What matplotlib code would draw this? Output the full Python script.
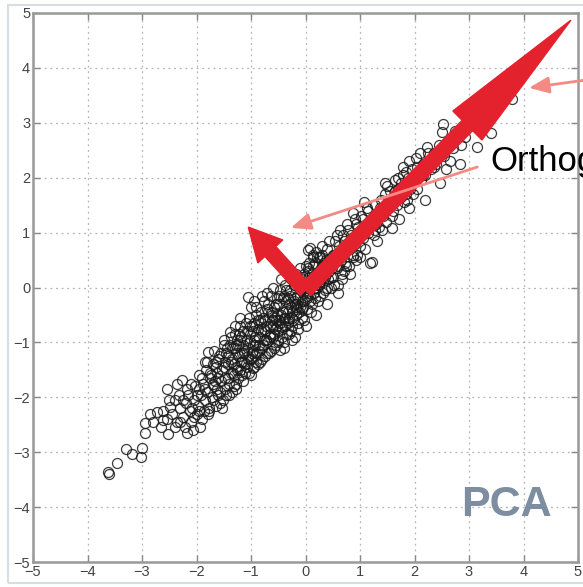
import numpy as np
import matplotlib.pyplot as plt
from matplotlib.patches import FancyArrow, Rectangle

plt.rcParams['font.family'] = ['Liberation Sans', 'DejaVu Sans']

# scatter points, split by region along the diagonal
lower_tail = [(-3.62, -3.36), (-3.60, -3.40), (-3.46, -3.20), (-3.29, -2.94), (-3.18, -3.03),
              (-3.00, -2.92), (-3.02, -3.09), (-2.94, -2.47), (-2.94, -2.65), (-2.72, -2.27),
              (-2.61, -2.41), (-2.52, -2.67), (-2.54, -1.85), (-2.45, -2.30), (-2.40, -2.05),
              (-2.35, -2.45), (-2.62, -2.25), (-2.80, -2.45), (-2.85, -2.30), (-2.48, -2.18),
              (-2.30, -2.20), (-2.32, -1.95), (-2.40, -2.55), (-2.55, -2.40), (-2.65, -2.55),
              (-2.50, -2.05), (-2.30, -2.45)]

lower_mid = [(-2.27, -1.68), (-2.17, -2.65), (-2.06, -2.60), (-1.79, -1.18), (-1.77, -2.19),
             (-2.25, -2.35), (-2.20, -2.10), (-2.15, -1.95), (-2.12, -2.25), (-2.10, -2.45),
             (-2.05, -2.05), (-2.02, -1.80), (-2.00, -2.30), (-1.98, -2.15), (-1.95, -1.60),
             (-1.92, -1.95), (-1.90, -2.40), (-1.88, -1.75), (-1.85, -2.05), (-1.82, -1.50),
             (-1.80, -1.90), (-1.78, -2.30), (-1.75, -1.65), (-1.72, -2.00), (-1.70, -1.40),
             (-1.68, -1.80), (-1.65, -2.15), (-1.62, -1.55), (-1.60, -1.95), (-1.58, -1.25),
             (-1.55, -1.70), (-1.52, -2.05), (-1.50, -1.45), (-2.18, -1.85), (-2.08, -2.20),
             (-1.96, -1.85), (-1.86, -2.25), (-1.76, -1.55), (-1.66, -1.70), (-1.56, -1.90),
             (-2.35, -1.75), (-2.22, -2.55), (-1.94, -2.55), (-1.84, -1.35), (-1.64, -1.35),
             (-1.54, -2.20), (-1.60, -1.65), (-1.48, -1.35), (-1.42, -1.65), (-1.55, -1.20),
             (-1.65, -1.45), (-1.70, -1.75), (-1.85, -1.85), (-1.90, -1.65), (-2.00, -1.95),
             (-2.10, -1.75), (-2.05, -2.35), (-1.95, -2.25), (-2.25, -2.05)]

core_low = [(-1.48, -1.65), (-1.46, -1.20), (-1.45, -1.95), (-1.42, -1.40), (-1.40, -1.75),
            (-1.38, -1.05), (-1.36, -1.55), (-1.34, -1.30), (-1.32, -1.80), (-1.30, -1.10),
            (-1.28, -1.45), (-1.26, -0.95), (-1.24, -1.65), (-1.22, -1.25), (-1.20, -1.50),
            (-1.18, -0.90), (-1.16, -1.35), (-1.14, -1.70), (-1.12, -1.15), (-1.10, -1.40),
            (-1.08, -0.80), (-1.06, -1.25), (-1.04, -1.55), (-1.02, -1.00), (-1.00, -1.30),
            (-0.98, -0.70), (-0.96, -1.15), (-0.94, -1.45), (-0.92, -0.90), (-0.90, -1.20),
            (-0.88, -0.60), (-0.86, -1.05), (-0.84, -1.35), (-0.82, -0.80), (-0.80, -1.10),
            (-0.78, -0.55), (-0.76, -0.95), (-0.74, -1.25), (-0.72, -0.70), (-0.70, -1.00),
            (-0.68, -0.45), (-0.66, -0.85), (-0.64, -1.15), (-0.62, -0.60), (-0.60, -0.90),
            (-0.58, -0.35), (-0.56, -0.75), (-0.54, -1.05), (-0.52, -0.50), (-0.50, -0.80),
            (-1.44, -1.10), (-1.31, -1.60), (-1.21, -0.95), (-1.11, -1.55), (-1.01, -0.85),
            (-0.91, -1.35), (-0.81, -0.65), (-0.71, -1.20), (-0.61, -0.50), (-0.51, -1.00),
            (-1.25, -1.20), (-1.15, -1.05), (-1.05, -1.10), (-0.95, -0.95), (-0.85, -0.90),
            (-0.75, -0.80), (-0.65, -0.70), (-0.55, -0.60), (-1.37, -1.35), (-1.17, -1.20),
            (-0.97, -1.05), (-0.77, -0.75), (-0.57, -0.55), (-0.47, -1.14), (-1.35, -1.90),
            (-1.39, -0.81), (-0.96, -1.47), (-1.06, -0.18), (-1.28, -1.85), (-0.90, -0.50)]

core_wide = [(-1.80, -1.35), (-1.77, -2.25), (-1.73, -1.60), (-1.70, -2.05), (-1.67, -1.15),
             (-1.63, -1.85), (-1.60, -1.30), (-1.57, -2.10), (-1.53, -1.50), (-1.50, -1.05),
             (-1.47, -1.85), (-1.43, -1.25), (-1.40, -1.95), (-1.37, -0.90), (-1.33, -1.55),
             (-1.30, -0.85), (-1.27, -1.75), (-1.23, -1.05), (-1.20, -0.70), (-1.17, -1.60),
             (-1.13, -1.20), (-1.10, -0.65), (-1.07, -1.45), (-1.03, -0.55), (-1.00, -1.60),
             (-0.97, -0.80), (-0.93, -1.25), (-0.90, -0.35), (-0.87, -1.40), (-0.83, -0.60),
             (-0.80, -1.30), (-0.77, -0.25), (-0.73, -0.95), (-0.70, -0.40), (-0.67, -1.20),
             (-0.63, -0.15), (-0.60, -0.70), (-0.57, -1.10), (-0.53, -0.20), (-0.50, -0.95),
             (-0.47, -0.05), (-0.43, -0.75), (-0.40, -1.00), (-0.37, 0.05), (-0.33, -0.45),
             (-0.30, -0.85), (-0.27, 0.15), (-0.23, -0.60), (-0.20, -0.30), (-0.17, 0.25),
             (-0.13, -0.65), (-0.10, 0.35), (-0.07, -0.25), (-0.03, -0.60), (0.00, 0.40),
             (0.03, -0.20), (0.07, 0.20), (0.10, -0.45), (0.13, 0.55), (0.17, 0.05),
             (0.20, 0.65), (0.23, -0.25), (0.27, 0.10), (0.30, 0.75), (0.33, -0.10),
             (0.37, 0.50), (0.40, 0.00), (0.43, 0.85), (0.47, 0.20), (0.50, 0.60),
             (0.53, 0.05), (0.57, 0.95), (0.60, 0.40), (0.63, 1.05), (0.67, 0.25),
             (0.70, 0.85), (0.73, 0.45), (0.77, 1.15), (0.80, 0.40), (0.83, 0.95),
             (0.87, 0.60), (0.90, 1.25), (0.93, 0.50), (0.97, 1.10), (1.00, 0.55),
             (-1.20, -0.55), (-1.00, -0.35), (-0.80, -0.15), (-0.60, 0.00), (-0.45, 0.15),
             (-0.30, 0.30), (-1.30, -0.70), (-1.50, -0.95), (-0.95, -0.25), (-0.70, -0.10),
             (-0.20, -0.90), (0.00, -0.70), (0.20, -0.50), (0.40, -0.30), (0.60, -0.10),
             (-0.40, -1.10)]

core_dense = [(-1.35, -1.10), (-1.32, -1.40), (-1.28, -1.05), (-1.25, -1.50), (-1.22, -0.85),
              (-1.18, -1.35), (-1.15, -0.80), (-1.12, -1.35), (-1.08, -0.95), (-1.05, -1.30),
              (-1.02, -0.70), (-0.98, -1.20), (-0.95, -0.65), (-0.92, -1.05), (-0.88, -0.75),
              (-0.85, -1.15), (-0.82, -0.45), (-0.78, -1.05), (-0.75, -0.60), (-0.72, -0.95),
              (-0.68, -0.30), (-0.65, -0.90), (-0.62, -0.45), (-0.58, -0.85), (-0.55, -0.30),
              (-0.52, -0.70), (-0.48, -0.15), (-0.45, -0.70), (-0.42, -0.20), (-0.38, -0.55),
              (-0.35, -0.05), (-0.32, -0.65), (-0.28, -0.15), (-0.25, -0.55), (-0.22, 0.05),
              (-0.18, -0.35), (-0.15, 0.10), (-0.12, -0.45), (-0.08, 0.15), (-0.05, -0.35),
              (-0.02, 0.25), (0.02, -0.15), (0.05, 0.35), (0.08, -0.25), (0.12, 0.25),
              (0.15, -0.10), (0.18, 0.45), (0.22, 0.00), (0.25, 0.55), (0.28, 0.15)]

core_mid = [(-0.48, -0.30), (-0.46, -0.65), (-0.44, -0.90), (-0.42, -0.45), (-0.40, -0.15),
            (-0.38, -0.70), (-0.36, -0.40), (-0.34, -0.85), (-0.32, -0.20), (-0.30, -0.55),
            (-0.28, -0.05), (-0.26, -0.35), (-0.25, -0.96), (-0.24, -0.70), (-0.22, -0.25),
            (-0.20, 0.05), (-0.18, -0.50), (-0.16, -0.15), (-0.14, -0.75), (-0.12, 0.10),
            (-0.10, -0.35), (-0.08, -0.05), (-0.06, -0.55), (-0.04, 0.20), (-0.02, -0.25),
            (0.00, 0.05), (0.02, -0.40), (0.04, 0.30), (0.06, -0.10), (0.08, 0.72),
            (0.05, 0.68), (0.10, 0.15), (0.12, -0.30), (0.14, 0.40), (0.16, 0.00),
            (0.18, -0.20), (0.20, 0.25), (0.22, 0.55), (0.24, 0.05), (0.26, -0.15),
            (0.28, 0.35), (0.30, 0.60), (0.32, 0.10), (0.34, 0.45), (0.36, -0.05),
            (0.38, 0.25), (0.40, 0.70), (0.42, 0.15), (0.44, 0.50), (0.46, 0.00),
            (0.48, 0.35), (-0.45, -0.50), (-0.35, -0.25), (-0.25, -0.45), (-0.15, -0.30),
            (-0.05, -0.10), (0.05, 0.00), (0.15, 0.20), (0.25, 0.30), (0.35, 0.20),
            (0.45, 0.45), (-0.40, -0.55), (-0.30, -0.30), (-0.20, -0.20), (-0.10, -0.15),
            (0.00, -0.05), (0.10, 0.05), (0.20, 0.10), (0.30, 0.40), (-0.49, -0.60),
            (-0.33, -0.60), (-0.17, -0.40), (0.07, 0.45), (0.27, 0.55), (0.43, 0.30),
            (-0.27, -0.80), (-0.07, -0.40), (0.13, 0.60)]

upper_mid = [(0.50, 0.20), (0.52, 0.60), (0.55, 0.85), (0.58, 0.35), (0.60, 0.05),
             (0.62, 0.75), (0.65, 0.50), (0.68, 0.95), (0.70, 0.30), (0.72, 0.65),
             (0.75, 0.40), (0.78, 1.05), (0.80, 0.70), (0.82, 0.25), (0.85, 0.90),
             (0.87, 1.36), (0.88, 0.55), (0.90, 0.80), (0.92, 1.15), (0.95, 0.60),
             (0.98, 0.95), (1.00, 0.75), (1.02, 1.30), (1.05, 0.90), (1.08, 1.10),
             (1.10, 0.70), (1.12, 1.45), (1.15, 1.00), (1.18, 0.45), (1.20, 1.25),
             (1.22, 0.46), (1.25, 0.95), (1.28, 1.50), (1.30, 1.15), (1.32, 0.85),
             (1.35, 1.35), (1.38, 1.60), (1.40, 1.05), (1.42, 1.30), (1.45, 1.70),
             (1.46, 1.90), (1.48, 1.20), (0.57, 0.55), (0.77, 0.80), (0.97, 1.00),
             (1.17, 1.20), (1.37, 1.45), (0.67, 0.15), (1.07, 1.55), (1.27, 1.05),
             (1.05, 1.25), (1.15, 1.40), (1.25, 1.30), (1.35, 1.10), (1.45, 1.45)]

upper_high = [(1.52, 1.45), (1.55, 1.75), (1.58, 1.30), (1.59, 1.08), (1.62, 1.60),
              (1.65, 1.95), (1.68, 1.50), (1.70, 1.80), (1.72, 1.25), (1.75, 1.65),
              (1.78, 2.05), (1.79, 2.20), (1.80, 1.55), (1.82, 1.85), (1.85, 1.70),
              (1.88, 2.00), (1.90, 1.45), (1.92, 1.80), (1.95, 2.15), (1.98, 1.70),
              (2.00, 1.95), (2.02, 2.35), (2.05, 1.80), (2.08, 2.10), (2.10, 2.45),
              (2.12, 1.95), (2.15, 2.25), (2.19, 1.59), (2.20, 2.05), (2.23, 2.56),
              (2.25, 2.30), (2.30, 2.15), (2.35, 2.45), (2.40, 2.25), (2.47, 1.90),
              (2.45, 2.60), (1.60, 1.40), (1.87, 1.60), (2.03, 2.05), (1.55, 1.55),
              (1.65, 1.75), (1.75, 1.90), (1.85, 2.10), (1.95, 1.90), (2.05, 2.20),
              (2.15, 2.05), (2.25, 2.45), (2.35, 2.20), (1.50, 1.85), (1.70, 2.00),
              (1.90, 2.30)]

upper_tail = [(2.52, 2.98), (2.50, 2.83), (2.55, 2.40), (2.60, 2.65), (2.65, 2.30),
              (2.70, 2.55), (2.75, 2.85), (2.83, 2.25), (2.93, 2.74), (3.15, 2.56),
              (3.40, 2.81), (3.79, 3.43), (2.85, 2.60), (2.58, 2.15)]

# principal directions (arrow tips)
pc1_tip = (4.87, 4.87)
pc2_tip = (-1.05, 1.10)
ticks = [-5, -4, -3, -2, -1, 0, 1, 2, 3, 4, 5]

pts = np.array(lower_tail + lower_mid + core_low + core_wide + core_dense + core_mid
               + upper_mid + upper_high + upper_tail)

fig = plt.figure(figsize=(5.83, 5.87), dpi=100)
ax = fig.add_axes([33 / 583, 1 - 562 / 587, 545 / 583, 549 / 587])

# light frame around the whole picture
fig.patches.append(Rectangle((8 / 583, 4 / 587), 1.2, 1 - 9 / 587, transform=fig.transFigure,
                             fill=False, edgecolor='#d3dfe0', linewidth=1.5))

ax.plot(pts[:, 0], pts[:, 1], 'o', markersize=7.2, markerfacecolor='none',
        markeredgecolor='#1a1a1a', markeredgewidth=0.9, alpha=0.85, zorder=2)

red = '#e3222d'
ax.add_patch(FancyArrow(0, -0.05, pc1_tip[0], pc1_tip[1] + 0.05, width=0.27, head_width=0.75,
                        head_length=2.7, length_includes_head=True, color=red, zorder=3))
ax.add_patch(FancyArrow(0, -0.05, pc2_tip[0], pc2_tip[1] + 0.05, width=0.27, head_width=0.62,
                        head_length=0.6, length_includes_head=True, color=red, zorder=3))

pink = '#f48a84'
ax.annotate('', xy=(4.05, 3.63), xytext=(5.15, 3.78), annotation_clip=False,
            arrowprops=dict(arrowstyle='-|>,head_length=1.2,head_width=0.5', color=pink, lw=2))
ax.annotate('', xy=(-0.32, 1.07), xytext=(3.2, 2.21),
            arrowprops=dict(arrowstyle='-|>,head_length=1.2,head_width=0.5', color=pink, lw=2))

ax.text(3.39, 2.30, 'Orthogonal', fontsize=25, va='center', ha='left', color='black', clip_on=False)
ax.text(3.68, -3.96, 'PCA', fontsize=31, fontweight='bold', va='center', ha='center', color='#7d8ea0')

ax.set_xlim(-5, 5)
ax.set_ylim(-5, 5)
ax.set_xticks(ticks)
ax.set_yticks(ticks)
ax.grid(True, linestyle=(0, (1.5, 3)), color='#b5b5b5', linewidth=0.9)
ax.tick_params(direction='in', top=True, right=True, length=5, width=1, color='#888888',
               labelsize=10.5, labelcolor='#444444', pad=2)
for s in ax.spines.values():
    s.set_color('#999999')
    s.set_linewidth(1.8)

plt.savefig('out.png', dpi=100)
